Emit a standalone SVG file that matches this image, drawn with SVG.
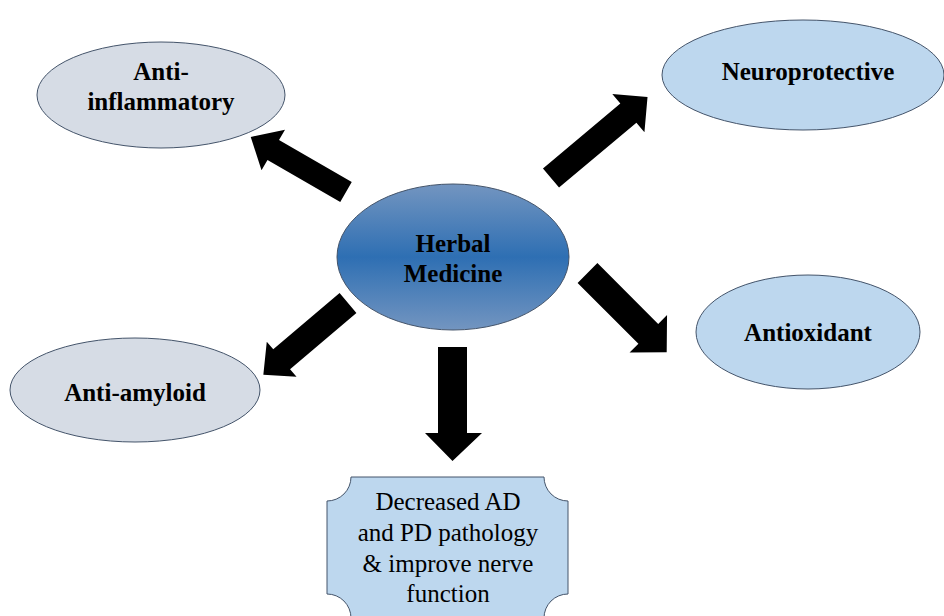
<svg xmlns="http://www.w3.org/2000/svg" width="944" height="616" viewBox="0 0 944 616">
<defs>
<linearGradient id="hg" x1="0" y1="0" x2="0" y2="1">
<stop offset="0" stop-color="#7395c0"/>
<stop offset="0.5" stop-color="#2e6fb3"/>
<stop offset="1" stop-color="#7395c0"/>
</linearGradient>
</defs>
<style>
.t{font-family:'Liberation Serif',Tinos,'Times New Roman','DejaVu Serif',serif;font-size:25px;fill:#000;text-anchor:middle}
.b{font-weight:bold}
.gray{fill:#d6dce5;stroke:#44546a;stroke-width:1}
.blue{fill:#bdd7ee;stroke:#44546a;stroke-width:1}
.a{fill:#000}
</style>
<g id="connectors">
<g transform="translate(346,192) rotate(210)"><polygon class="a" points="0,-11.5 84,-11.5 84,-23.5 110,0 84,23.5 84,11.5 0,11.5"/></g>
<g transform="translate(551,178) rotate(-40)"><polygon class="a" points="0,-12.5 101,-12.5 101,-25 126,0 101,25 101,12.5 0,12.5"/></g>
<g transform="translate(587.5,273) rotate(45)"><polygon class="a" points="0,-14 86,-14 86,-26.5 112,0 86,26.5 86,14 0,14"/></g>
<g transform="translate(348,303) rotate(139.7)"><polygon class="a" points="0,-13 87,-13 87,-23 111,0 87,23 87,13 0,13"/></g>
<polygon class="a" points="438,347 467,347 467,433 482,433 452.5,461 425,433 438,433"/>
</g>
<g id="herbal">
<ellipse cx="453" cy="257" rx="116" ry="73" fill="url(#hg)" stroke="#44546a" stroke-width="1"/>
<text class="t b" x="453" y="252">Herbal</text>
<text class="t b" x="453" y="282">Medicine</text>
</g>
<g id="antiinflammatory">
<ellipse class="gray" cx="161" cy="95" rx="124" ry="53"/>
<text class="t b" x="161" y="80">Anti-</text>
<text class="t b" x="161" y="110">inflammatory</text>
</g>
<g id="neuroprotective">
<ellipse class="blue" cx="803" cy="75" rx="141" ry="55"/>
<text class="t b" x="808" y="80">Neuroprotective</text>
</g>
<g id="antioxidant">
<ellipse class="blue" cx="808" cy="332" rx="112" ry="57"/>
<text class="t b" x="808" y="341">Antioxidant</text>
</g>
<g id="antiamyloid">
<ellipse class="gray" cx="135" cy="390" rx="125" ry="52"/>
<text class="t b" x="135" y="401">Anti-amyloid</text>
</g>
<g id="outcome">
<path class="blue" d="M351,477 H544 A24,24 0 0 0 568,501 V594 A24,24 0 0 0 544,618 H351 A24,24 0 0 0 327,594 V501 A24,24 0 0 0 351,477 Z"/>
<text class="t" x="448" y="510">Decreased AD</text>
<text class="t" x="448" y="541">and PD pathology</text>
<text class="t" x="448" y="572">&amp; improve nerve</text>
<text class="t" x="448" y="602">function</text>
</g>
</svg>
